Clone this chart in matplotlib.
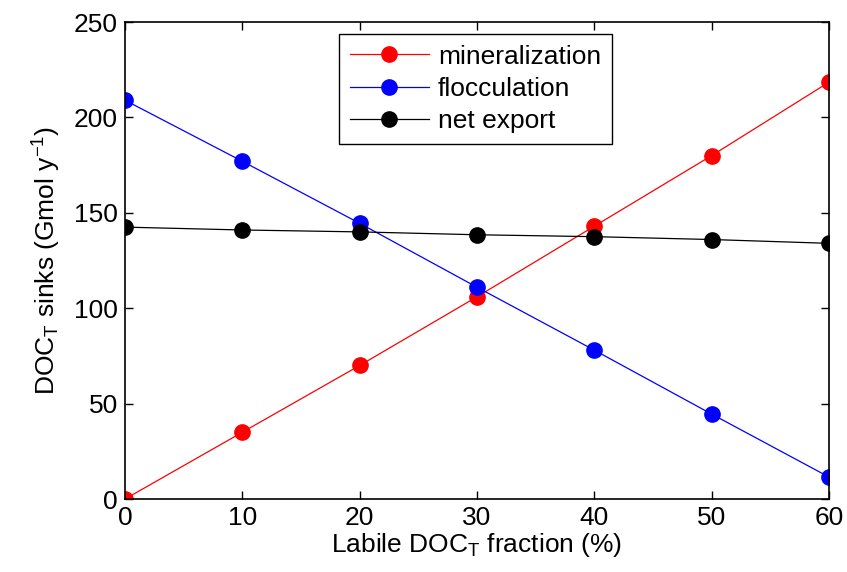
import matplotlib
matplotlib.use("Agg")
import matplotlib.pyplot as plt

# labile fraction (%) and the three sinks (Gmol/y)
labile_pct = [0, 10, 20, 30, 40, 50, 60]
mineralization = [0, 35, 70, 106, 143, 180, 218.5]
flocculation = [209, 177, 144.5, 111, 78, 44.5, 11.5]
net_export = [142.5, 141, 140, 138.5, 137.5, 136, 134]

plt.rcParams['font.family'] = ['Liberation Sans', 'DejaVu Sans']
plt.rcParams['mathtext.default'] = 'regular'

fig = plt.figure(figsize=(8.47, 5.72), dpi=100)
ax = fig.add_axes([0.1476, 0.1276, 0.8312, 0.8339])

style = dict(marker='o', markersize=11, linewidth=0.9)
ax.plot(labile_pct, mineralization, color='#ff0000', label='mineralization', **style)
ax.plot(labile_pct, flocculation, color='#0000ff', label='flocculation', **style)
ax.plot(labile_pct, net_export, color='black', label='net export', **style)

ax.set_xlim(0, 60)
ax.set_ylim(0, 250)
ax.set_xticks(range(0, 61, 10))
ax.set_yticks(range(0, 251, 50))
ax.tick_params(direction='in', length=6, width=1, top=True, right=True,
               labelsize=19, pad=5)
for s in ax.spines.values():
    s.set_linewidth(1.2)
    s.set_zorder(5)

ax.set_xlabel('Labile DOC$_T$ fraction (%)', fontsize=19, labelpad=1)
ax.set_ylabel('DOC$_T$ sinks (Gmol y$^{-1}$)', fontsize=19, labelpad=8)

leg = ax.legend(loc='upper left', bbox_to_anchor=(0.304, 0.975), fontsize=19,
                fancybox=False, edgecolor='black', framealpha=1,
                handlelength=3.0, handletextpad=0.35, borderpad=0.4,
                labelspacing=0.32, borderaxespad=0)
leg.get_frame().set_linewidth(1.0)

fig.savefig('out.png', dpi=100)
